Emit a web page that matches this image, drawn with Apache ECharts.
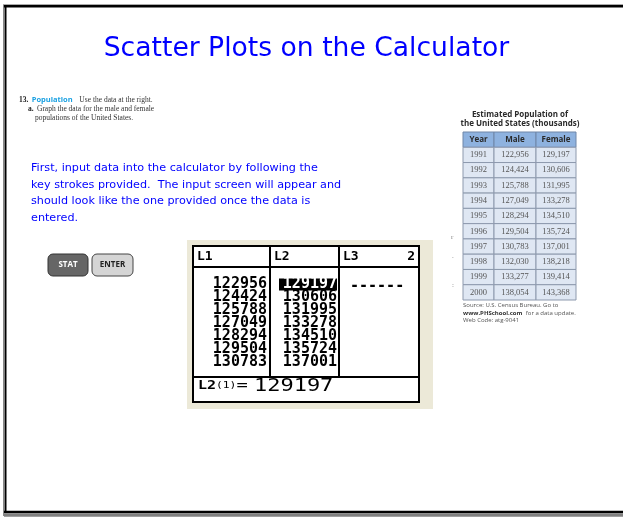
<!DOCTYPE html>
<html>
<head>
<meta charset="utf-8">
<script src="https://cdn.jsdelivr.net/npm/echarts@6/dist/echarts.min.js"></script>
<style>
html,body{margin:0;padding:0;background:#fff;}
#c{width:623px;height:517px;}
</style>
</head>
<body>
<div id="c"></div>
<script>
// ---- data ----
const years = ['1991','1992','1993','1994','1995','1996','1997','1998','1999','2000'];
const male = [122956,124424,125788,127049,128294,129504,130783,132030,133277,138054];
const female = [129197,130606,131995,133278,134510,135724,137001,138218,139414,143368];
const tableHeaders = ['Year','Male','Female'];
const calcHeaders = ['L1','L2','L3'];
const calcRows = 7;

// ---- layout constants ----
const tableColEdges = [0, 31, 73, 113];
const calcColRight = [74, 144];

const chart = echarts.init(document.getElementById('c'), null, {renderer:'canvas'});

const tableData = [];
tableHeaders.forEach((h, c) => tableData.push([c, 0, h]));
years.forEach((y, i) => {
  tableData.push([0, i + 1, y]);
  tableData.push([1, i + 1, male[i].toLocaleString('en-US')]);
  tableData.push([2, i + 1, female[i].toLocaleString('en-US')]);
});

const calcData = [];
for (let i = 0; i < calcRows; i++) {
  calcData.push([0, i, String(male[i])]);
  calcData.push([1, i, String(female[i])]);
}

function tableItem(params, api) {
  const c = api.value(0), r = api.value(1);
  const p0 = api.coord([tableColEdges[c], r]);
  const p1 = api.coord([tableColEdges[c + 1], r + 1]);
  const header = r === 0;
  const txt = tableData[params.dataIndex][2];
  return {
    type: 'group',
    children: [
      {type:'rect', shape:{x:p0[0], y:p0[1], width:p1[0]-p0[0], height:p1[1]-p0[1]},
       style:{fill: header ? '#8eb2df' : '#dfe7f3', stroke: header ? '#6f86a8' : '#8d99ad', lineWidth:1}},
      {type:'text', style:{x:(p0[0]+p1[0])/2, y:(p0[1]+p1[1])/2, text:txt, align:'center', verticalAlign:'middle',
        fill: header ? '#2a2a2a' : '#555',
        font: header ? 'bold 8px "Open Sans", sans-serif' : '8.5px "Liberation Serif", serif'}}
    ]
  };
}

function calcItem(params, api) {
  const c = api.value(0), r = api.value(1);
  const pR = api.coord([calcColRight[c], r + 0.5]);
  const txt = calcData[params.dataIndex][2];
  const hi = (c === 1 && r === 0);
  const children = [];
  if (hi) {
    const pa = api.coord([calcColRight[c] - 58, r]);
    const pb = api.coord([calcColRight[c], r + 1]);
    children.push({type:'rect', shape:{x:pa[0], y:pa[1]+0.5, width:pb[0]-pa[0], height:pb[1]-pa[1]-1}, style:{fill:'#000'}});
  }
  children.push({type:'text', style:{x:pR[0], y:pR[1], text:txt, align:'right', verticalAlign:'middle',
    fill: hi ? '#fff' : '#000', font:'bold 15px "DejaVu Sans Mono", monospace'}});
  return {type:'group', children};
}

const blue = '#0000ff';
const comic = '"DejaVu Sans", sans-serif';

const option = {
  animation: false,
  backgroundColor: '#fff',
  grid: [
    {left:463, top:132, width:113, height:168},
    {left:193, top:278, width:226, height:91}
  ],
  xAxis: [
    {type:'value', gridIndex:0, min:0, max:113, show:false},
    {type:'value', gridIndex:1, min:0, max:226, show:false}
  ],
  yAxis: [
    {type:'value', gridIndex:0, min:0, max:11, inverse:true, show:false},
    {type:'value', gridIndex:1, min:0, max:7, inverse:true, show:false}
  ],
  series: [
    {type:'custom', xAxisIndex:0, yAxisIndex:0, data:tableData.map(d=>[d[0],d[1]]), renderItem:tableItem, silent:true},
    {type:'custom', xAxisIndex:1, yAxisIndex:1, data:calcData.map(d=>[d[0],d[1]]), renderItem:calcItem, silent:true}
  ],
  graphic: [
    // slide frame
    {type:'rect', shape:{x:3, y:4, width:1, height:512}, style:{fill:'#888'}, z:10},
    {type:'rect', shape:{x:3, y:4, width:620, height:1}, style:{fill:'#aaa'}, z:10},
    {type:'rect', shape:{x:4, y:5, width:619, height:2.5}, style:{fill:'#000'}, z:10},
    {type:'rect', shape:{x:4.5, y:5, width:2, height:508}, style:{fill:'#000'}, z:10},
    {type:'rect', shape:{x:4, y:510.7, width:619, height:2.5}, style:{fill:'#000'}, z:10},
    {type:'rect', shape:{x:4, y:513.2, width:619, height:3.5}, style:{fill:'#808080'}, z:10},
    // title
    {type:'text', style:{x:306.5, y:49, text:'Scatter Plots on the Calculator', align:'center', verticalAlign:'middle',
      fill:blue, font:'26.6px ' + comic}},
    // textbook problem
    {type:'text', style:{x:19, y:100, verticalAlign:'middle',
      rich:{n:{font:'bold 7.5px "Liberation Serif", serif', fill:'#222'}, p:{font:'bold 7.5px "Open Sans", sans-serif', fill:'#1ba1e2'}, t:{font:'7.5px "Liberation Serif", serif', fill:'#333'}},
      text:'{n|13.} {p|Population}  {t|Use the data at the right.}'}},
    {type:'text', style:{x:28, y:109, verticalAlign:'middle',
      rich:{n:{font:'bold 7.5px "Liberation Serif", serif', fill:'#222'}, t:{font:'7.5px "Liberation Serif", serif', fill:'#333'}},
      text:'{n|a.} {t|Graph the data for the male and female}'}},
    {type:'text', style:{x:35, y:118, verticalAlign:'middle', text:'populations of the United States.',
      font:'7.5px "Liberation Serif", serif', fill:'#333'}},
    // instructions
    {type:'text', style:{x:31, y:168, verticalAlign:'middle', text:'First, input data into the calculator by following the', fill:blue, font:'11.2px ' + comic}},
    {type:'text', style:{x:31, y:185, verticalAlign:'middle', text:'key strokes provided.  The input screen will appear and', fill:blue, font:'11.2px ' + comic}},
    {type:'text', style:{x:31, y:201, verticalAlign:'middle', text:'should look like the one provided once the data is', fill:blue, font:'11.2px ' + comic}},
    {type:'text', style:{x:31, y:218, verticalAlign:'middle', text:'entered.', fill:blue, font:'11.2px ' + comic}},
    // keys
    {type:'rect', shape:{x:48, y:254, width:40, height:22, r:5}, style:{fill:'#666', stroke:'#333', lineWidth:1}},
    {type:'text', style:{x:68, y:265, text:'STAT', align:'center', verticalAlign:'middle', fill:'#fff', font:'bold 8px "Open Sans", sans-serif'}},
    {type:'rect', shape:{x:92, y:254, width:41, height:22, r:5}, style:{fill:'#d5d5d5', stroke:'#444', lineWidth:1}},
    {type:'text', style:{x:112.5, y:265, text:'ENTER', align:'center', verticalAlign:'middle', fill:'#222', font:'bold 8px "Open Sans", sans-serif'}},
    // calculator screenshot
    {type:'rect', shape:{x:187, y:240, width:246, height:169}, style:{fill:'#ece9d8'}, z:-1},
    {type:'rect', shape:{x:193, y:246, width:226, height:156}, style:{fill:'#fff', stroke:'#000', lineWidth:2}, z:-1},
    {type:'line', shape:{x1:193, y1:267, x2:419, y2:267}, style:{stroke:'#000', lineWidth:2}},
    {type:'line', shape:{x1:193, y1:377, x2:419, y2:377}, style:{stroke:'#000', lineWidth:2}},
    {type:'line', shape:{x1:270, y1:246, x2:270, y2:377}, style:{stroke:'#000', lineWidth:2}},
    {type:'line', shape:{x1:339, y1:246, x2:339, y2:377}, style:{stroke:'#000', lineWidth:2}},
    {type:'text', style:{x:197, y:257, text:calcHeaders[0], verticalAlign:'middle', fill:'#000', font:'bold 13px "DejaVu Sans Mono", monospace'}},
    {type:'text', style:{x:274, y:257, text:calcHeaders[1], verticalAlign:'middle', fill:'#000', font:'bold 13px "DejaVu Sans Mono", monospace'}},
    {type:'text', style:{x:343, y:257, text:calcHeaders[2], verticalAlign:'middle', fill:'#000', font:'bold 13px "DejaVu Sans Mono", monospace'}},
    {type:'text', style:{x:415, y:257, text:'2', align:'right', verticalAlign:'middle', fill:'#000', font:'bold 13px "DejaVu Sans Mono", monospace'}},
    {type:'text', style:{x:350, y:286, text:'------', verticalAlign:'middle', fill:'#000', font:'bold 15px "DejaVu Sans Mono", monospace'}},
    {type:'text', x:198, y:386, style:{x:0, y:0, verticalAlign:'middle',
      rich:{a:{font:'bold 12px "DejaVu Sans Mono", monospace', fill:'#000'}, s:{font:'9px "DejaVu Sans Mono", monospace', fill:'#000'}, e:{font:'15px "DejaVu Sans Mono", monospace', fill:'#000'}},
      text:'{a|L2}{s|(1)}{e|=}'}, scaleX:1.25},
    {type:'text', x:254, y:386, style:{x:0, y:0, text:String(female[0]), verticalAlign:'middle', fill:'#000',
      font:'18px "DejaVu Sans Mono", monospace'}, scaleX:1.22},
    // table title & source
    {type:'text', style:{x:520, y:115, text:'Estimated Population of', align:'center', verticalAlign:'middle', fill:'#2a2a2a', font:'bold 8px "Open Sans", sans-serif'}},
    {type:'text', style:{x:520, y:124, text:'the United States (thousands)', align:'center', verticalAlign:'middle', fill:'#2a2a2a', font:'bold 8px "Open Sans", sans-serif'}},
    {type:'text', style:{x:463, y:305, text:'Source: U.S. Census Bureau. Go to', verticalAlign:'middle', fill:'#555', font:'6px "Open Sans", sans-serif'}},
    {type:'text', style:{x:463, y:313, verticalAlign:'middle',
      rich:{b:{font:'bold 6px "Open Sans", sans-serif', fill:'#333'}, t:{font:'6px "Open Sans", sans-serif', fill:'#555'}},
      text:'{b|www.PHSchool.com} {t|for a data update.}'}},
    {type:'text', style:{x:463, y:320, text:'Web Code: atg-9041', verticalAlign:'middle', fill:'#555', font:'6px "Open Sans", sans-serif'}},
    // scan fragments
    {type:'text', style:{x:451, y:237, text:'r', verticalAlign:'middle', fill:'#888', font:'7px "Liberation Serif", serif'}},
    {type:'text', style:{x:452, y:256, text:'.', verticalAlign:'middle', fill:'#888', font:'7px "Liberation Serif", serif'}},
    {type:'text', style:{x:452, y:285, text:':', verticalAlign:'middle', fill:'#888', font:'7px "Liberation Serif", serif'}}
  ]
};
chart.setOption(option);
</script>
</body>
</html>
